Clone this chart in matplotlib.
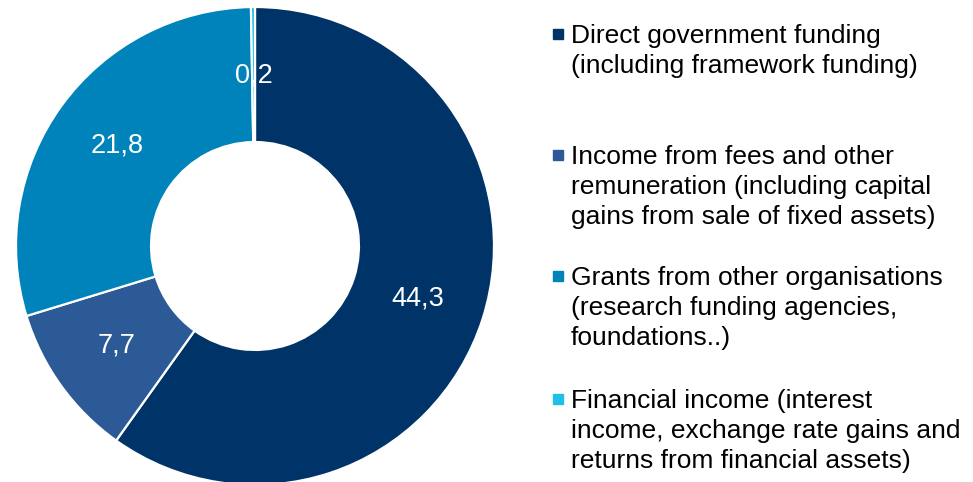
import numpy as np
import matplotlib.pyplot as plt
from matplotlib.patches import Rectangle

# Income shares (%)
values = [44.3, 7.7, 21.8, 0.2]
value_labels = ['44,3', '7,7', '21,8', '0,2']
categories = [
    'Direct government funding\n(including framework funding)',
    'Income from fees and other\nremuneration (including capital\ngains from sale of fixed assets)',
    'Grants from other organisations\n(research funding agencies,\nfoundations..)',
    'Financial income (interest\nincome, exchange rate gains and\nreturns from financial assets)',
]
colors = ['#003468', '#2B5A96', '#0083BA', '#1FBFE8']

plt.rcParams['font.family'] = ['Liberation Sans', 'DejaVu Sans']

fig = plt.figure(figsize=(9.73, 4.82), dpi=100)
# donut: centre ~(255, 246) px, radius ~239 px
ax = fig.add_axes([16 / 973, -3 / 482, 478 / 973, 478 / 482])

wedges, _ = ax.pie(values, startangle=90, counterclock=False, colors=colors,
                   radius=1, wedgeprops=dict(width=0.565, edgecolor='white', linewidth=1.6))

# value labels in the middle of the ring
for w, lab in zip(wedges, value_labels):
    ang = np.deg2rad((w.theta1 + w.theta2) / 2)
    ax.text(0.715 * np.cos(ang), 0.715 * np.sin(ang), lab, color='white',
            fontsize=19.5, ha='center', va='center')

ax.set_xlim(-1, 1)
ax.set_ylim(-1, 1)
ax.set_aspect('equal')
ax.axis('off')

# legend drawn by hand: squares + wrapped text
# first-line baselines in px, lines 30 px apart
baselines = [43, 164, 285, 408]
line_px = 30
for y, c, txt in zip(baselines, colors, categories):
    n = txt.count('\n')
    fig.patches.append(Rectangle((553 / 973, 1 - (y - 4) / 482), 10 / 973, 10 / 482,
                                 transform=fig.transFigure, color=c))
    # va='baseline' pins the last line, so shift down by the extra lines
    fig.text(571 / 973, 1 - (y + n * line_px) / 482, txt, fontsize=19,
             va='baseline', ha='left', linespacing=1.31, color='black')

fig.savefig('out.png', dpi=100)
